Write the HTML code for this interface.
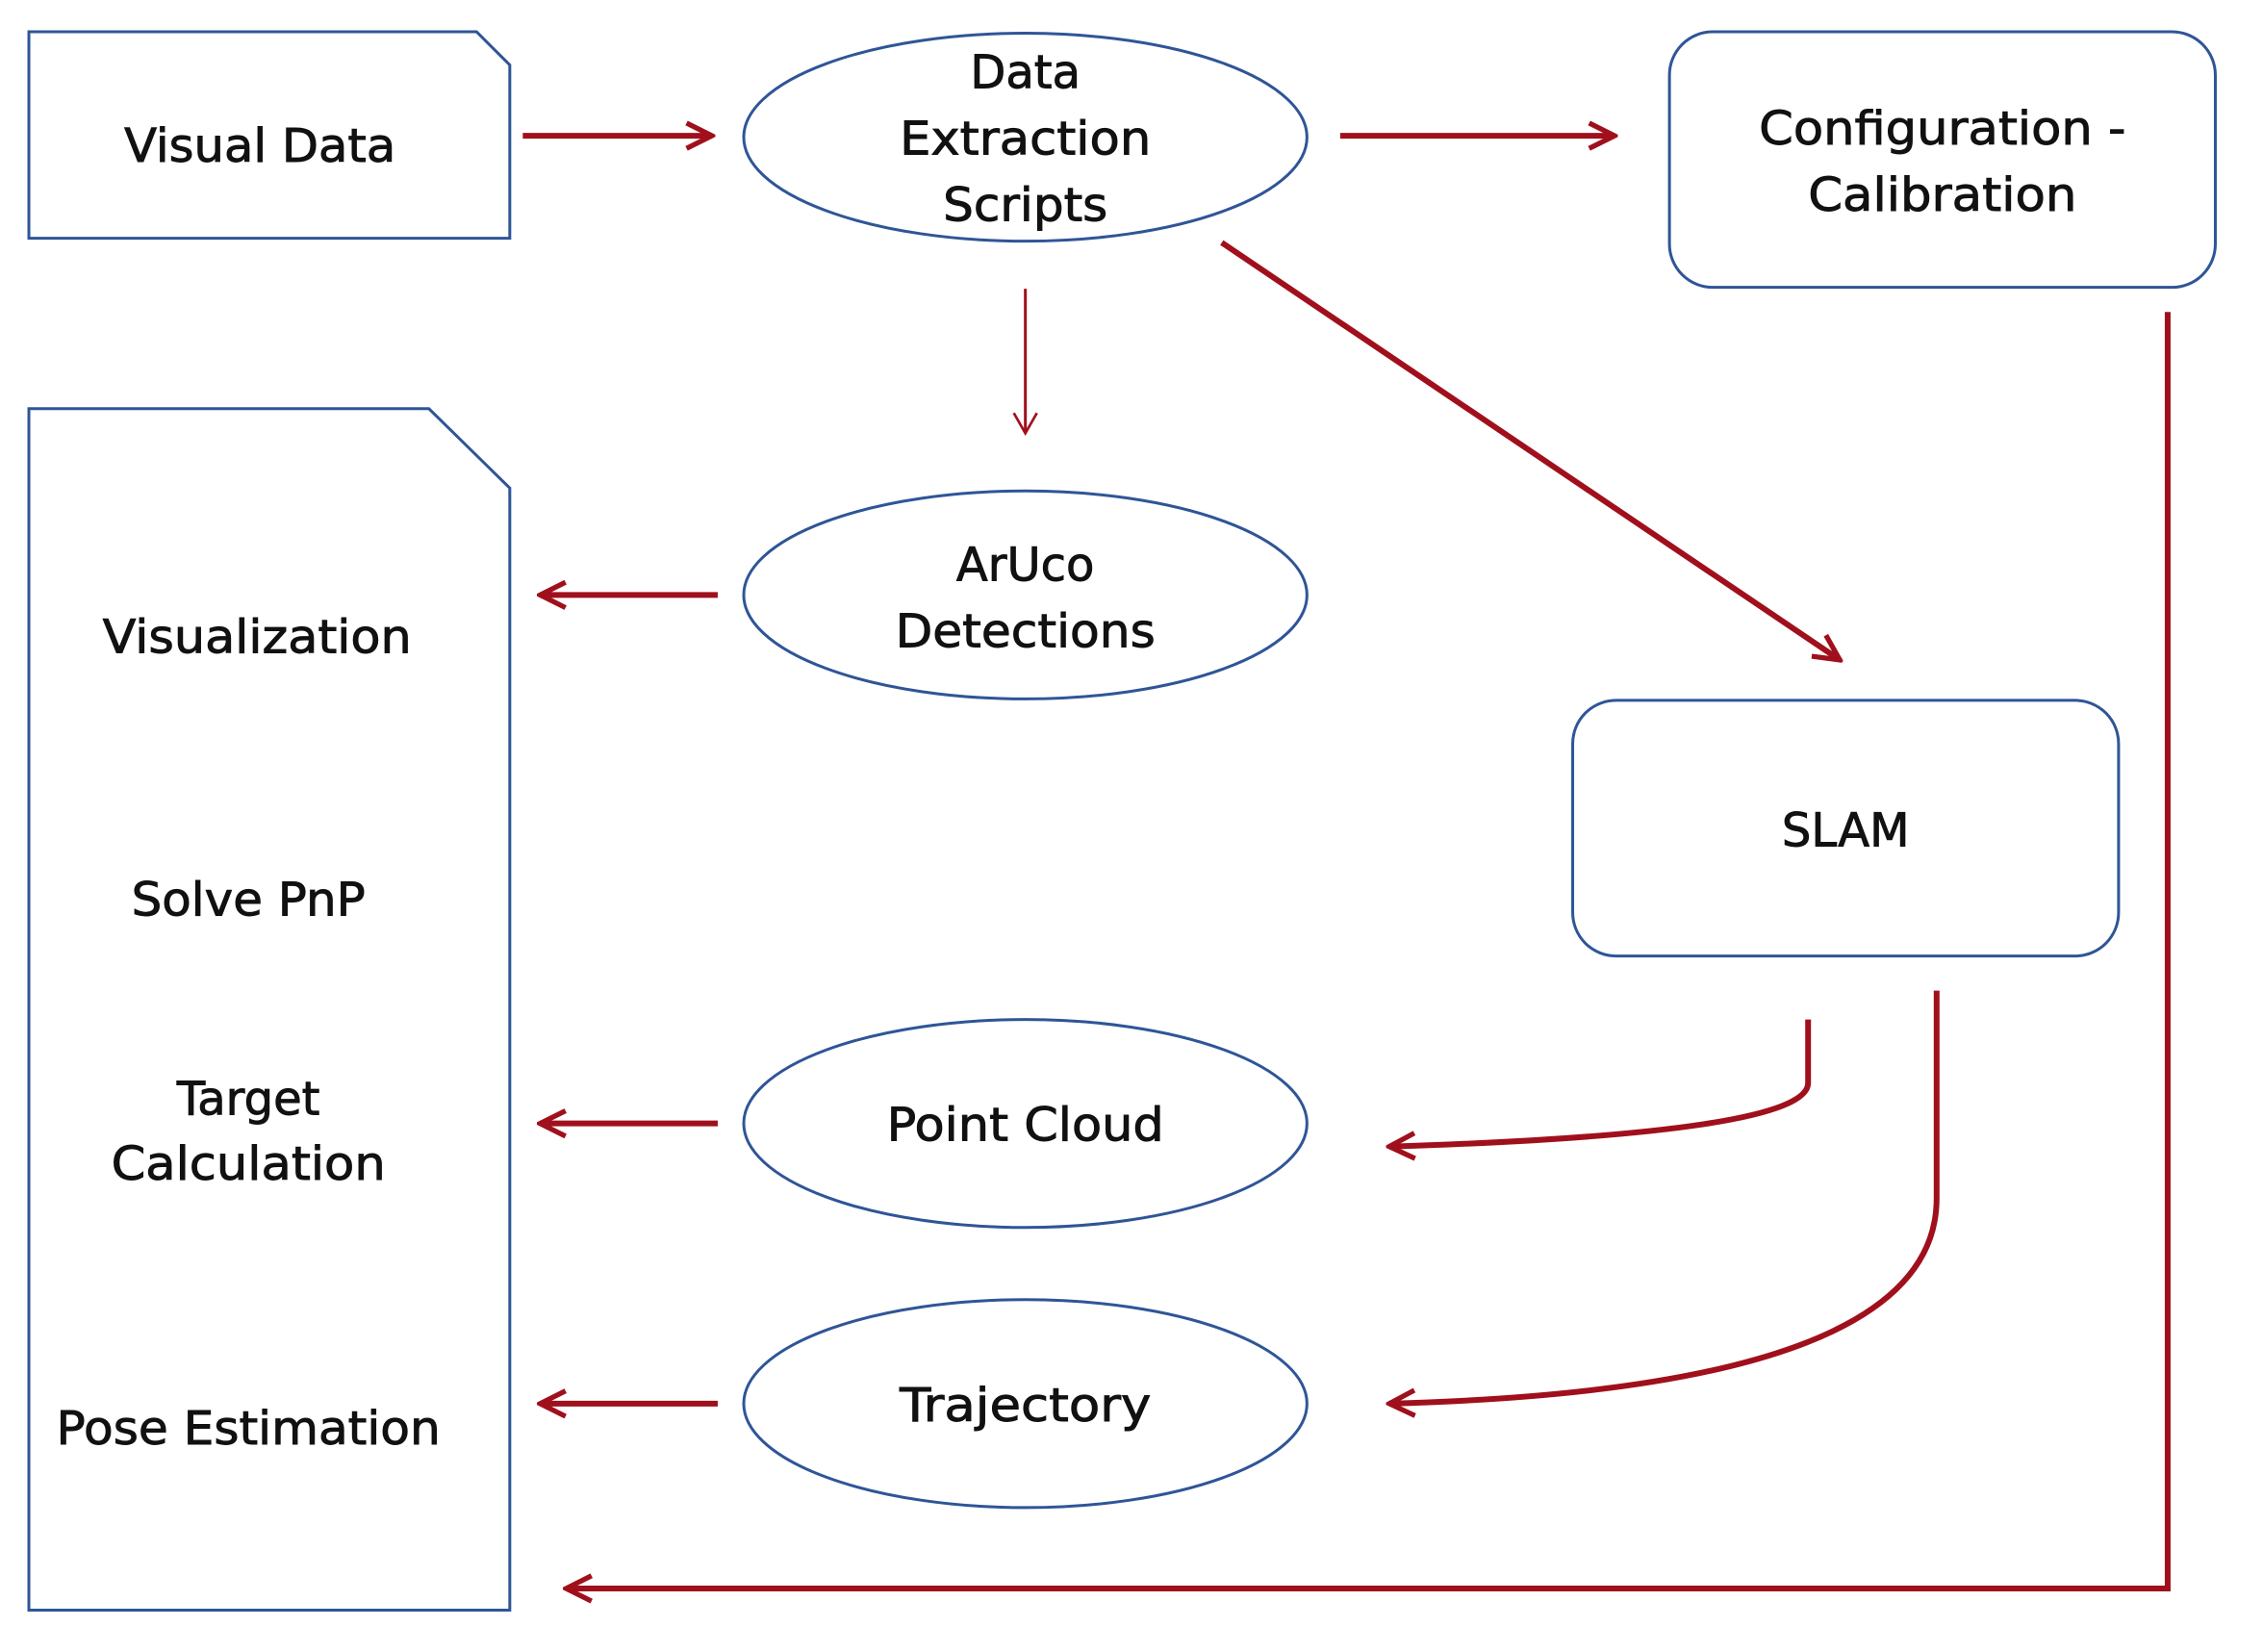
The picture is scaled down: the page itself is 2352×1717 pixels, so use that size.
<!DOCTYPE html>
<html><head><style>html,body{margin:0;padding:0;background:#fff}svg{display:block}</style></head>
<body>
<svg width="2352" height="1717" viewBox="0 0 1567 1144" preserveAspectRatio="none" xmlns="http://www.w3.org/2000/svg">
<defs>
<marker id="h" viewBox="0 0 10 10" refX="9" refY="5" markerWidth="5.5" markerHeight="6" orient="auto" markerUnits="strokeWidth">
<path d="M1,1 L9,5 L1,9" fill="none" stroke="#a0101c" stroke-width="1.6"/>
</marker>
<marker id="t" viewBox="0 0 10 10" refX="9" refY="5" markerWidth="10" markerHeight="12" orient="auto" markerUnits="strokeWidth">
<path d="M2,1 L9,5 L2,9" fill="none" stroke="#a0101c" stroke-width="0.9"/>
</marker>
</defs>
<g fill="none" stroke="#2f5597" stroke-width="2">
<polygon points="20,22 330,22 353,45 353,165 20,165"/>
<ellipse cx="710" cy="95" rx="195" ry="72"/>
<rect x="1156" y="22" width="378" height="177" rx="30"/>
<polygon points="20,283 297,283 353,338 353,1115 20,1115"/>
<ellipse cx="710" cy="412" rx="195" ry="72"/>
<rect x="1089" y="485" width="378" height="177" rx="30"/>
<ellipse cx="710" cy="778" rx="195" ry="72"/>
<ellipse cx="710" cy="972" rx="195" ry="72"/>
</g>
<g fill="none" stroke="#a0101c" stroke-width="4">
<line x1="362" y1="94" x2="493" y2="94" marker-end="url(#h)"/>
<line x1="928" y1="94" x2="1118" y2="94" marker-end="url(#h)"/>
<line x1="846" y1="168" x2="1274" y2="457" marker-end="url(#h)"/>
<line x1="497" y1="412" x2="374" y2="412" marker-end="url(#h)"/>
<line x1="497" y1="778" x2="374" y2="778" marker-end="url(#h)"/>
<line x1="497" y1="972" x2="374" y2="972" marker-end="url(#h)"/>
<path d="M1252,706 L1252,750 Q1252,785 962,794" marker-end="url(#h)"/>
<path d="M1341,686 L1341,830 Q1341,962 962,972" marker-end="url(#h)"/>
<path d="M1501,216 L1501,1100 L392,1100" marker-end="url(#h)"/>
</g>
<line x1="710" y1="200" x2="710" y2="300" stroke="#a0101c" stroke-width="2" marker-end="url(#t)"/>
<g font-family="'DejaVu Sans','Liberation Sans',sans-serif" font-size="32" fill="#111" stroke="#111" stroke-width="0.6" text-anchor="middle">
<text x="180" y="112" textLength="188" lengthAdjust="spacingAndGlyphs">Visual Data</text>
<text x="710" y="61">Data</text>
<text x="710" y="107" textLength="174" lengthAdjust="spacingAndGlyphs">Extraction</text>
<text x="710" y="153" textLength="114" lengthAdjust="spacingAndGlyphs">Scripts</text>
<text x="1345" y="100" textLength="254" lengthAdjust="spacingAndGlyphs">Configuration -</text>
<text x="1345" y="146" textLength="186" lengthAdjust="spacingAndGlyphs">Calibration</text>
<text x="710" y="402">ArUco</text>
<text x="710" y="448" textLength="180" lengthAdjust="spacingAndGlyphs">Detections</text>
<text x="1278" y="586">SLAM</text>
<text x="710" y="790" textLength="192" lengthAdjust="spacingAndGlyphs">Point Cloud</text>
<text x="710" y="984" textLength="174" lengthAdjust="spacingAndGlyphs">Trajectory</text>
<text x="178" y="452" textLength="214" lengthAdjust="spacingAndGlyphs">Visualization</text>
<text x="172" y="634" textLength="162" lengthAdjust="spacingAndGlyphs">Solve PnP</text>
<text x="172" y="772">Target</text>
<text x="172" y="817" textLength="190" lengthAdjust="spacingAndGlyphs">Calculation</text>
<text x="172" y="1000" textLength="266" lengthAdjust="spacingAndGlyphs">Pose Estimation</text>
</g>
</svg>
</body></html>
